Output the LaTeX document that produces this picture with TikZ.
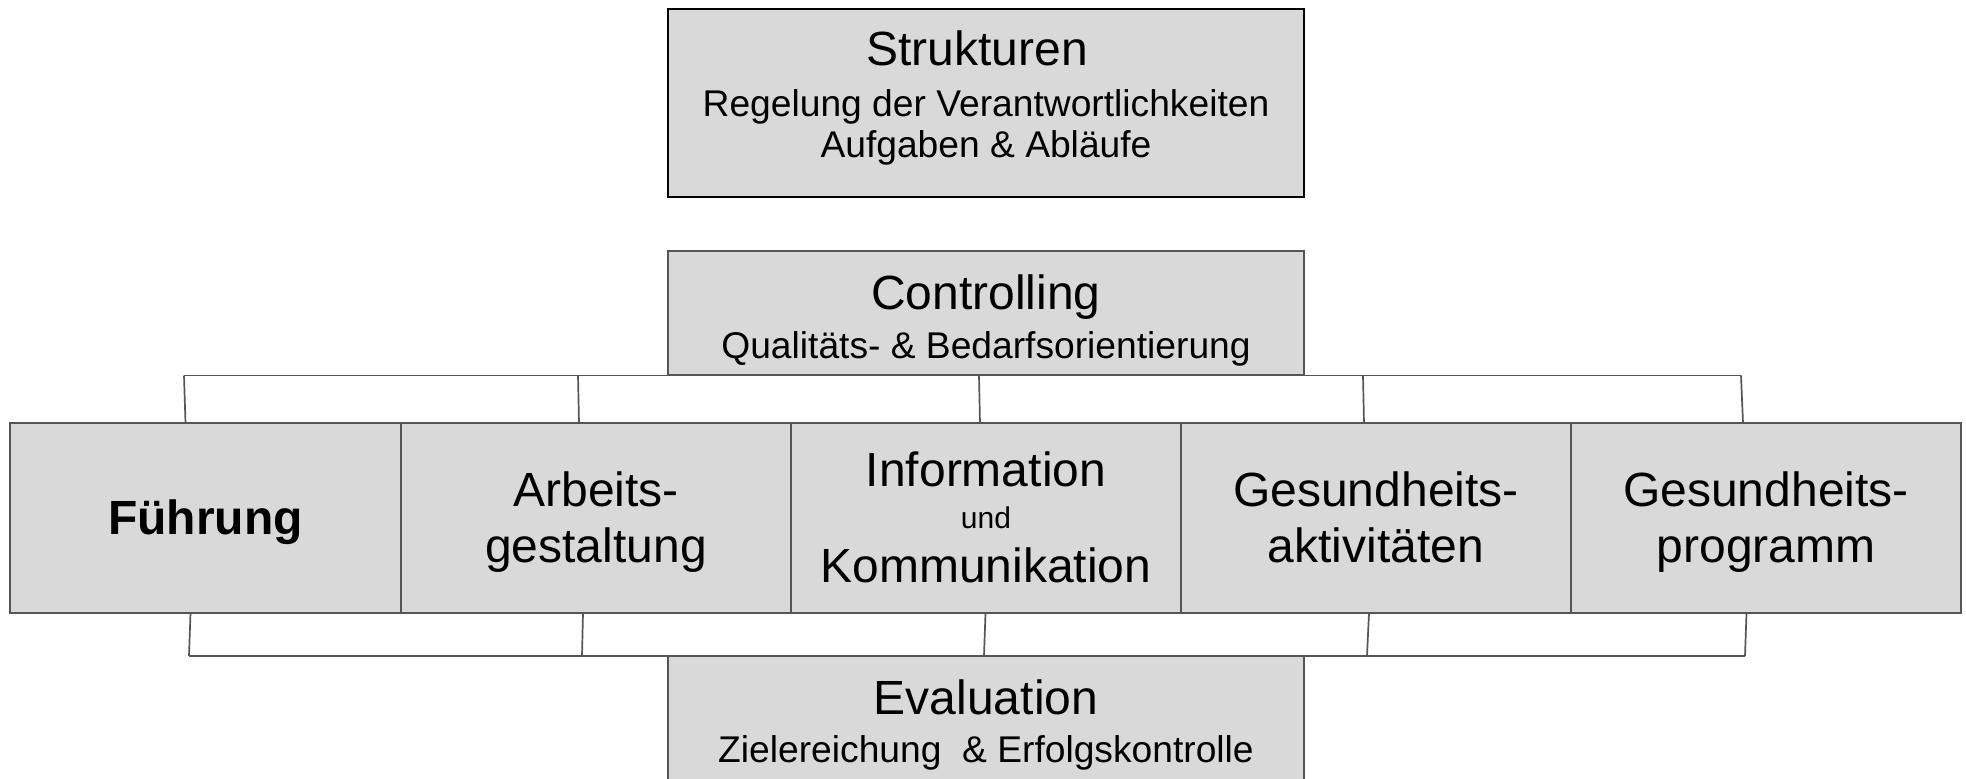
\documentclass[tikz,border=0pt]{standalone}
\usepackage{fontspec}
\setmainfont{Liberation Sans}
\usetikzlibrary{calc}
\definecolor{boxfill}{HTML}{D9D9D9}
\definecolor{boxline}{HTML}{555555}
\newcommand\ftitle{\fontsize{24}{28}\selectfont}
\newcommand\fsub{\fontsize{18.6}{20.5}\selectfont}
\newcommand\fund{\fontsize{15}{16}\selectfont}
\tikzset{
  box/.style={draw=boxline, line width=1pt, fill=boxfill, inner sep=0pt, outer sep=0pt, align=center, text=black},
  topbox/.style={box, minimum width=318pt, font=\fsub},
  rowbox/.style={box, minimum width=195pt, minimum height=95pt, font=\ftitle},
  conn/.style={draw=boxline, line width=0.85pt},
}
\begin{document}
\begin{tikzpicture}[x=0.5pt,y=-0.5pt]
\useasboundingbox (0,0) rectangle (1966,779);
\clip (0,0) rectangle (1966,779);
\fill[white] (0,0) rectangle (1966,779);

% top boxes
\node[topbox, draw=black, minimum height=94pt] (str) at (986,103)
  {{\ftitle\rule{0pt}{28.5pt}Strukturen\hspace*{9pt}}\\[5pt]Regelung der Verantwortlichkeiten\\Aufgaben \& Abläufe\rule[-19.5pt]{0pt}{19.5pt}};
\node[topbox, minimum height=62pt] (con) at (986,313)
  {{\ftitle\rule{0pt}{29.5pt}Controlling}\\[4pt]Qualitäts- \& Bedarfsorientierung\rule[-8pt]{0pt}{8pt}};

% middle row
\node[rowbox, minimum width=195.5pt] (fu) at (205.5,518)
  {\bfseries\rule[-39pt]{0pt}{95pt}Führung};
\node[rowbox] (ar) at (596,518)
  {\rule{0pt}{42pt}Arbeits-\\gestaltung\rule[-25pt]{0pt}{25pt}};
\node[rowbox, font=\fontsize{24}{21}\selectfont] (ik) at (986,518)
  {\rule{0pt}{32pt}Information\\{\fund und}\\[6pt]Kommunikation\rule[-15pt]{0pt}{15pt}};
\node[rowbox] (ga) at (1376,518)
  {\rule{0pt}{42pt}Gesundheits-\\aktivitäten\rule[-25pt]{0pt}{25pt}};
\node[rowbox] (gp) at (1766,518)
  {\rule{0pt}{42pt}Gesundheits-\\programm\rule[-25pt]{0pt}{25pt}};

% bottom box
\node[topbox, minimum height=68pt] (eva) at (986,724)
  {{\ftitle\rule{0pt}{29.5pt}Evaluation}\\[3.5pt]Zielereichung\ \ \& Erfolgskontrolle\rule[-14.5pt]{0pt}{14.5pt}};

% top bus
\coordinate (t1) at (184,375.5);
\coordinate (t2) at (578,375.5);
\coordinate (t3) at (979,375.5);
\coordinate (t4) at (1363,375.5);
\coordinate (t5) at (1741,375.5);
\draw[conn] (t1) -- (t5);
\draw[conn] (t1) -- ($(t1 |- fu.north)+(1.5,0)$);
\draw[conn] (t2) -- ($(t2 |- ar.north)+(1,0)$);
\draw[conn] (t3) -- ($(t3 |- ik.north)+(1,0)$);
\draw[conn] (t4) -- ($(t4 |- ga.north)+(1,0)$);
\draw[conn] (t5) -- ($(t5 |- gp.north)+(2,0)$);

% bottom bus
\coordinate (b1) at (189,656);
\coordinate (b2) at (582,656);
\coordinate (b3) at (984,656);
\coordinate (b4) at (1367,656);
\coordinate (b5) at (1745,656);
\draw[conn] (b1) -- (b5);
\draw[conn] ($(b1 |- fu.south)+(1.5,0)$) -- (b1);
\draw[conn] ($(b2 |- ar.south)+(1,0)$) -- (b2);
\draw[conn] ($(b3 |- ik.south)+(1.5,0)$) -- (b3);
\draw[conn] ($(b4 |- ga.south)+(2,0)$) -- (b4);
\draw[conn] ($(b5 |- gp.south)+(1.5,0)$) -- (b5);
\end{tikzpicture}
\end{document}
